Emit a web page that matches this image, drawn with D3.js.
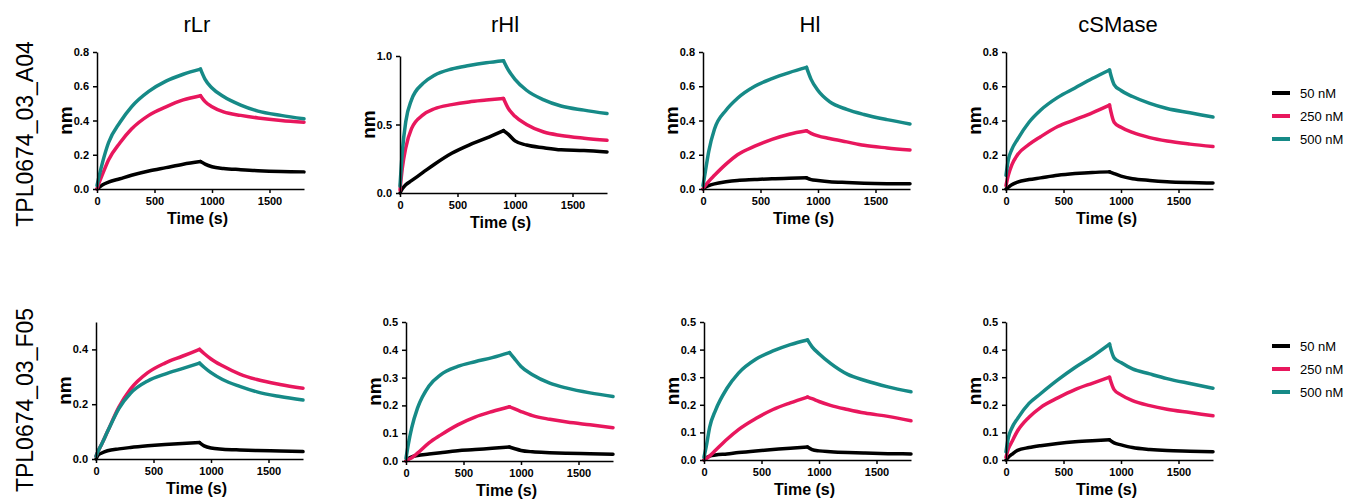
<!DOCTYPE html>
<html>
<head>
<meta charset="utf-8">
<script src="https://cdn.jsdelivr.net/npm/d3@7"></script>
<style>
  body { margin: 0; background: #fff; }
  .axis path, .axis line { stroke: #000; stroke-width: 1.5px; }
  .axis text { font-family: "Liberation Sans", Arial, sans-serif; font-weight: bold; font-size: 11px; fill: #000; }
</style>
</head>
<body>
<svg id="chart" width="1350" height="500"></svg>
<script>
// sample times (s)
var times = [0, 20, 50, 100, 200, 300, 450, 600, 750, 900, 940, 1000, 1100, 1250, 1400, 1600, 1800];
var analytes = ['rLr', 'rHl', 'Hl', 'cSMase'];
var clones = ['TPL0674_03_A04', 'TPL0674_03_F05'];
var concs = ['50 nM', '250 nM', '500 nM'];
var colors = ['#000000', '#e8175d', '#168a87'];
var xTicks = [0, 500, 1000, 1500];

// y axis range and ticks per panel
var yMaxA04 = [0.8, 1.0, 0.8, 0.8];
var yMaxF05 = [0.5, 0.5, 0.5, 0.5];
var yTicksA04 = [[0, 0.2, 0.4, 0.6, 0.8], [0, 0.5, 1.0], [0, 0.2, 0.4, 0.6, 0.8], [0, 0.2, 0.4, 0.6, 0.8]];
var yTicksF05 = [[0, 0.2, 0.4], [0, 0.1, 0.2, 0.3, 0.4, 0.5], [0, 0.1, 0.2, 0.3, 0.4, 0.5], [0, 0.1, 0.2, 0.3, 0.4, 0.5]];

// response (nm) -- TPL0674_03_A04
var a04_rLr_50 = [0, 0.01, 0.025, 0.04, 0.06, 0.08, 0.105, 0.125, 0.145, 0.16, 0.145, 0.13, 0.12, 0.113, 0.107, 0.102, 0.10];
var a04_rLr_250 = [0, 0.04, 0.09, 0.17, 0.27, 0.35, 0.43, 0.48, 0.52, 0.545, 0.51, 0.48, 0.45, 0.43, 0.415, 0.40, 0.39];
var a04_rLr_500 = [0.02, 0.08, 0.16, 0.27, 0.39, 0.48, 0.57, 0.63, 0.67, 0.70, 0.64, 0.59, 0.54, 0.49, 0.455, 0.43, 0.41];
var a04_rHl_50 = [0, 0.03, 0.06, 0.09, 0.15, 0.21, 0.29, 0.35, 0.40, 0.455, 0.43, 0.38, 0.35, 0.33, 0.315, 0.31, 0.30];
var a04_rHl_250 = [0.02, 0.18, 0.33, 0.47, 0.57, 0.615, 0.645, 0.665, 0.678, 0.69, 0.62, 0.56, 0.50, 0.445, 0.42, 0.40, 0.385];
var a04_rHl_500 = [0.05, 0.30, 0.52, 0.68, 0.80, 0.86, 0.905, 0.93, 0.95, 0.965, 0.90, 0.83, 0.75, 0.68, 0.635, 0.605, 0.58];
var a04_Hl_50 = [0, 0.01, 0.02, 0.03, 0.042, 0.05, 0.055, 0.06, 0.063, 0.065, 0.055, 0.05, 0.043, 0.038, 0.034, 0.031, 0.03];
var a04_Hl_250 = [0, 0.02, 0.045, 0.08, 0.145, 0.20, 0.25, 0.29, 0.32, 0.34, 0.325, 0.31, 0.295, 0.275, 0.255, 0.24, 0.228];
var a04_Hl_500 = [0.02, 0.10, 0.22, 0.35, 0.46, 0.53, 0.60, 0.645, 0.68, 0.71, 0.64, 0.575, 0.51, 0.465, 0.435, 0.405, 0.38];
var a04_cSMase_50 = [0, 0.01, 0.025, 0.04, 0.055, 0.065, 0.08, 0.09, 0.097, 0.10, 0.09, 0.075, 0.06, 0.05, 0.043, 0.038, 0.035];
var a04_cSMase_250 = [0.02, 0.08, 0.14, 0.20, 0.26, 0.305, 0.365, 0.405, 0.445, 0.49, 0.39, 0.36, 0.33, 0.30, 0.28, 0.262, 0.248];
var a04_cSMase_500 = [0.08, 0.17, 0.23, 0.29, 0.39, 0.46, 0.535, 0.59, 0.645, 0.695, 0.61, 0.575, 0.54, 0.50, 0.47, 0.445, 0.42];

// response (nm) -- TPL0674_03_F05
var f05_rLr_50 = [0, 0.015, 0.022, 0.03, 0.037, 0.042, 0.048, 0.053, 0.057, 0.06, 0.048, 0.04, 0.036, 0.033, 0.031, 0.029, 0.027];
var f05_rLr_250 = [0.01, 0.03, 0.055, 0.10, 0.19, 0.255, 0.315, 0.35, 0.375, 0.40, 0.385, 0.365, 0.34, 0.31, 0.29, 0.272, 0.258];
var f05_rLr_500 = [0.01, 0.03, 0.055, 0.10, 0.185, 0.24, 0.285, 0.31, 0.33, 0.35, 0.335, 0.315, 0.29, 0.265, 0.245, 0.228, 0.215];
var f05_rHl_50 = [0, 0.008, 0.015, 0.02, 0.025, 0.03, 0.037, 0.041, 0.046, 0.05, 0.045, 0.038, 0.033, 0.03, 0.028, 0.026, 0.024];
var f05_rHl_250 = [0, 0.005, 0.012, 0.028, 0.065, 0.093, 0.13, 0.158, 0.178, 0.195, 0.188, 0.178, 0.163, 0.15, 0.14, 0.13, 0.12];
var f05_rHl_500 = [0.01, 0.06, 0.12, 0.19, 0.27, 0.31, 0.34, 0.357, 0.372, 0.39, 0.37, 0.34, 0.31, 0.28, 0.262, 0.245, 0.232];
var f05_Hl_50 = [0, 0.008, 0.014, 0.018, 0.022, 0.027, 0.033, 0.038, 0.043, 0.047, 0.038, 0.033, 0.03, 0.027, 0.025, 0.023, 0.022];
var f05_Hl_250 = [0, 0.005, 0.015, 0.035, 0.075, 0.11, 0.15, 0.183, 0.207, 0.228, 0.222, 0.212, 0.198, 0.183, 0.17, 0.158, 0.142];
var f05_Hl_500 = [0.01, 0.05, 0.12, 0.18, 0.26, 0.315, 0.365, 0.395, 0.418, 0.435, 0.41, 0.385, 0.35, 0.31, 0.288, 0.265, 0.247];
var f05_cSMase_50 = [0, 0.01, 0.02, 0.035, 0.045, 0.052, 0.06, 0.066, 0.07, 0.073, 0.062, 0.055, 0.045, 0.038, 0.034, 0.032, 0.03];
var f05_cSMase_250 = [0.01, 0.04, 0.065, 0.105, 0.155, 0.19, 0.225, 0.255, 0.278, 0.30, 0.255, 0.236, 0.215, 0.197, 0.184, 0.172, 0.16];
var f05_cSMase_500 = [0.03, 0.08, 0.115, 0.15, 0.205, 0.24, 0.29, 0.335, 0.375, 0.42, 0.37, 0.353, 0.33, 0.312, 0.295, 0.277, 0.26];

var a04 = [
  [a04_rLr_50, a04_rLr_250, a04_rLr_500],
  [a04_rHl_50, a04_rHl_250, a04_rHl_500],
  [a04_Hl_50, a04_Hl_250, a04_Hl_500],
  [a04_cSMase_50, a04_cSMase_250, a04_cSMase_500]
];
var f05 = [
  [f05_rLr_50, f05_rLr_250, f05_rLr_500],
  [f05_rHl_50, f05_rHl_250, f05_rHl_500],
  [f05_Hl_50, f05_Hl_250, f05_Hl_500],
  [f05_cSMase_50, f05_cSMase_250, f05_cSMase_500]
];

// panel layout, one entry per row
var rows = [
  {clone: clones[0], data: a04, yMax: yMaxA04, yTicks: yTicksA04, labelY: 134, legendY: 93,
   x0: [97, 400, 703, 1006], top: [52, 56, 52, 52], bottom: [189, 193, 189, 189]},
  {clone: clones[1], data: f05, yMax: yMaxF05, yTicks: yTicksF05, labelY: 400, legendY: 346,
   x0: [96, 406, 704, 1006], top: [322, 322, 322, 322], bottom: [459, 461, 460, 460]}
];
var plotW = 207;
var titleX = [197, 505, 810, 1118];
var sansFont = '"Liberation Sans", Arial, sans-serif';

var svg = d3.select('#chart');

// column titles
svg.selectAll('.col-title')
    .data(analytes)
    .enter().append('text')
    .attr('class', 'col-title')
    .attr('x', function (d, i) { return titleX[i]; })
    .attr('y', 32)
    .attr('text-anchor', 'middle')
    .style('font-family', sansFont)
    .style('font-size', '22px')
    .text(function (d) { return d; });

rows.forEach(function (row, r) {

  // row label (clone name)
  svg.append('text')
      .attr('transform', 'translate(33,' + row.labelY + ') rotate(-90)')
      .attr('text-anchor', 'middle')
      .style('font-family', sansFont)
      .style('font-size', '23px')
      .text(row.clone);

  analytes.forEach(function (name, c) {
    var left = row.x0[c], top = row.top[c], bottom = row.bottom[c];
    var x = d3.scaleLinear().domain([0, 1800]).range([left, left + plotW]);
    var y = d3.scaleLinear().domain([0, row.yMax[c]]).range([bottom, top]);
    var g = svg.append('g');

    // curves: association and dissociation drawn separately so the peak stays sharp
    var line = d3.line()
        .x(function (d) { return x(d[0]); })
        .y(function (d) { return y(d[1]); })
        .curve(d3.curveMonotoneX);

    row.data[c].forEach(function (vals, k) {
      var pts = times.map(function (t, i) { return [t, vals[i]]; });
      [pts.slice(0, 10), pts.slice(9)].forEach(function (seg) {
        g.append('path')
            .datum(seg)
            .attr('d', line)
            .attr('fill', 'none')
            .attr('stroke', colors[k])
            .attr('stroke-width', 3.5)
            .attr('stroke-linecap', 'round')
            .attr('stroke-linejoin', 'round');
      });
    });

    // axes
    g.append('g')
        .attr('class', 'axis')
        .attr('transform', 'translate(0,' + bottom + ')')
        .call(d3.axisBottom(x).tickValues(xTicks).tickSize(4).tickSizeOuter(0).tickPadding(4).tickFormat(d3.format('d')));

    g.append('g')
        .attr('class', 'axis')
        .attr('transform', 'translate(' + left + ',0)')
        .call(d3.axisLeft(y).tickValues(row.yTicks[c]).tickSize(4).tickSizeOuter(0).tickPadding(4).tickFormat(d3.format('.1f')));

    // axis titles
    g.append('text')
        .attr('transform', 'translate(' + (left - 25) + ',' + ((top + bottom) / 2) + ') rotate(-90)')
        .attr('text-anchor', 'middle')
        .style('font-family', sansFont)
        .style('font-weight', 'bold')
        .style('font-size', '19px')
        .text('nm');

    g.append('text')
        .attr('x', left + plotW / 2 - 3)
        .attr('y', bottom + 35)
        .attr('text-anchor', 'middle')
        .style('font-family', sansFont)
        .style('font-weight', 'bold')
        .style('font-size', '16px')
        .text('Time (s)');
  });

  // legend
  var leg = svg.append('g')
      .selectAll('g')
      .data(concs)
      .enter().append('g')
      .attr('transform', function (d, i) { return 'translate(1272,' + (row.legendY + i * 23) + ')'; });

  leg.append('line')
      .attr('x1', 0).attr('x2', 18)
      .attr('stroke', function (d, i) { return colors[i]; })
      .attr('stroke-width', 4);

  leg.append('text')
      .attr('x', 28)
      .attr('dy', '0.35em')
      .style('font-family', sansFont)
      .style('font-size', '13px')
      .text(function (d) { return d; });
});
</script>
</body>
</html>
